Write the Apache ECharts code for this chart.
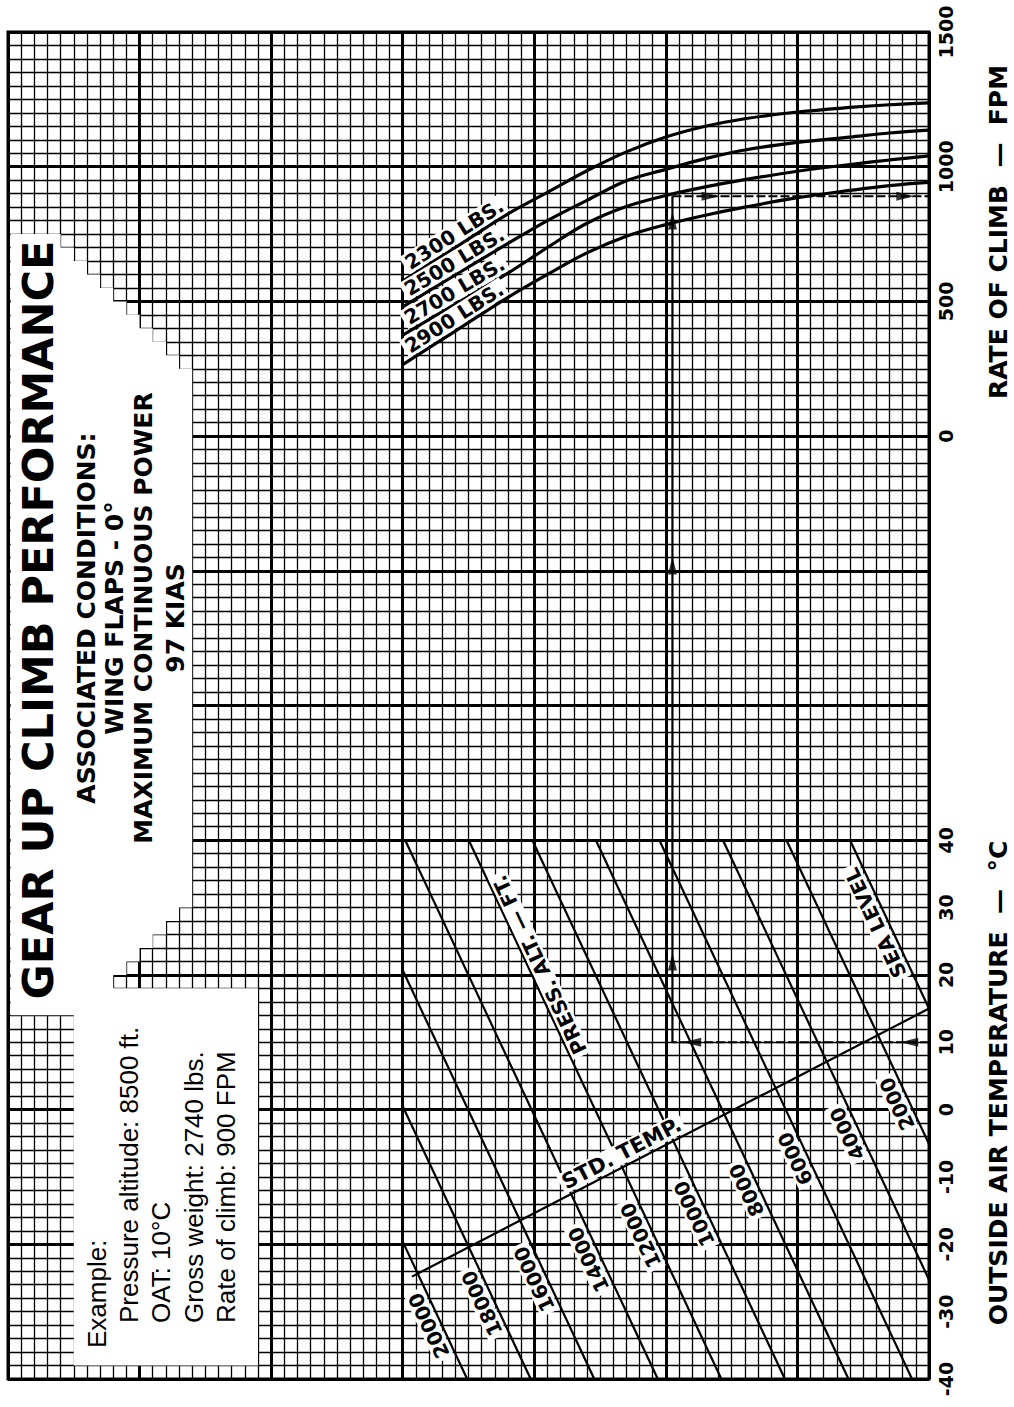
<!DOCTYPE html>
<html>
<head>
<meta charset="utf-8">
<script src="https://cdn.jsdelivr.net/npm/echarts@6.0.0/dist/echarts.min.js"></script>
<style>
html,body{margin:0;padding:0;background:#ffffff;}
#chart{width:1014px;height:1407px;}
</style>
</head>
<body>
<div id="chart"></div>
<script>
// ================= DATA =================
// Scales
const tempTickLabels = [-40, -30, -20, -10, 0, 10, 20, 30, 40];      // OAT, deg C
const rocTickLabels = [0, 500, 1000, 1500];                          // rate of climb, FPM

// Pressure altitude lines (OAT panel): end points [reference grid value, OAT degC]
const altitudeNames = ['SEA LEVEL', '2000', '4000', '6000', '8000', '10000',
                       '12000', '14000', '16000', '18000', '20000'];
const altSeaLevel = [[0, 15], [6.0, 40]];
const alt2000  = [[0, -5.1], [10.83, 40]];
const alt4000  = [[0, -25.25], [15.66, 40]];
const alt6000  = [[1.29, -40], [20.49, 40]];
const alt8000  = [[6.12, -40], [25.32, 40]];
const alt10000 = [[10.95, -40], [30.15, 40]];
const alt12000 = [[15.78, -40], [34.98, 40]];
const alt14000 = [[20.61, -40], [39.81, 40]];
const alt16000 = [[25.44, -40], [40, 20.7]];
const alt18000 = [[30.27, -40], [40, 0.5]];
const alt20000 = [[35.1, -40], [40, -19.6]];
const stdTempLine = [[0, 15], [39.3, -24.8]];

// Weight curves (rate of climb panel): reference grid value -> rate of climb FPM
const weightNames = ['2300 LBS.', '2500 LBS.', '2700 LBS.', '2900 LBS.'];
const curveRef = [40, 36, 32, 29, 26, 23, 20, 17, 14, 10, 6, 3, 0];
const roc2300 = [575, 700, 825, 905, 985, 1055, 1110, 1150, 1178, 1203, 1220, 1230, 1237];
const roc2500 = [480, 598, 715, 800, 875, 948, 990, 1030, 1062, 1090, 1110, 1125, 1136];
const roc2700 = [375, 490, 605, 700, 790, 852, 893, 925, 952, 983, 1008, 1025, 1040];
const roc2900 = [265, 390, 515, 600, 680, 742, 785, 820, 850, 885, 912, 930, 942];

// Worked example
const exampleOAT = 10;        // degC
const exampleRef = 19.5;      // reference value at 8500 ft / 10 degC
const exampleROC = 890;       // FPM

// Texts
const titleText = 'GEAR UP CLIMB PERFORMANCE';
const conditionLines = ['ASSOCIATED CONDITIONS:', 'WING FLAPS - 0°', 'MAXIMUM CONTINUOUS POWER', '97 KIAS'];
const exampleLines = ['Example:', 'Pressure altitude: 8500 ft.', 'OAT: 10°C', 'Gross weight: 2740 lbs.', 'Rate of climb: 900 FPM'];

// ================= LAYOUT =================
const FB = '"DejaVu Sans", "Liberation Sans", sans-serif';
const FR = '"Liberation Sans", Arial, sans-serif';

// temperature value -> position on the rate-of-climb axis (same grid, 2 degC per square, 50 FPM per square)
function tempOnRocAxis(t) { return -3500 + 50 * (t + 40) / 2; }

function refOnLine(pts, t) {
  const a = pts[0], b = pts[1];
  const f = (t - a[1]) / (b[1] - a[1]);
  return a[0] + f * (b[0] - a[0]);
}
function curveAt(vals, r) {
  for (let i = 0; i < curveRef.length - 1; i++) {
    const r0 = curveRef[i], r1 = curveRef[i + 1];
    if (r <= r0 && r >= r1) return vals[i] + (r - r0) / (r1 - r0) * (vals[i + 1] - vals[i]);
  }
  return vals[vals.length - 1];
}

// white mask of the title / example area, in grid squares [ref, square]
function buildMask() {
  const pts = [[69.8, 85]];
  for (let k = 0; k < 10; k++) { pts.push([66 - k, 85 - k]); pts.push([66 - k, 84 - k]); }
  pts.push([56, 75]);
  pts.push([56, 36]);
  for (let k = 0; k < 7; k++) { pts.push([56 + k, 35 - k]); pts.push([57 + k, 35 - k]); }
  pts.push([63, 29]);
  pts.push([51, 29]);
  pts.push([51, 1]);
  pts.push([65, 1]);
  pts.push([65, 27]);
  pts.push([69.8, 27]);
  return pts;
}

const altitudeLines = [altSeaLevel, alt2000, alt4000, alt6000, alt8000, alt10000,
                       alt12000, alt14000, alt16000, alt18000, alt20000];
const altLabelAt = [28.5, 1.6, -2.8, -6.5, -11.2, -14.7, -17.9, -21.5, -24.4, -28, -31.3];
const weightCurves = [roc2300, roc2500, roc2700, roc2900];

const chart = echarts.init(document.getElementById('chart'), null, { renderer: 'svg' });

function labelSeries(yAxisIndex, items) {
  return {
    type: 'custom', xAxisIndex: 0, yAxisIndex: yAxisIndex, z: 6, silent: true, clip: false,
    data: items.map((it, i) => [it.anchor[0], it.anchor[1], i]),
    renderItem: function (params, api) {
      const it = items[params.dataIndex];
      const p = api.coord(it.anchor), q1 = api.coord(it.from), q2 = api.coord(it.to);
      const th = Math.atan2(-(q2[1] - q1[1]), q2[0] - q1[0]);
      const nx = -Math.sin(th), ny = -Math.cos(th);
      return {
        type: 'text', x: p[0] + nx * it.offset, y: p[1] + ny * it.offset, rotation: th,
        style: { text: it.text, font: it.font, fill: '#000', align: 'center', verticalAlign: 'middle',
                 backgroundColor: '#fff', padding: [0, 3] }
      };
    }
  };
}

const altLabelItems = altitudeNames.map((name, i) => {
  const pts = altitudeLines[i];
  const t = altLabelAt[i];
  return { text: name, anchor: [refOnLine(pts, t), t], from: pts[0], to: pts[1],
           offset: 12, font: 'bold 20px ' + FB };
});
altLabelItems.push({ text: 'PRESS. ALT. \u2014 FT.', anchor: [29.6, 21.5], from: alt10000[0], to: alt10000[1],
                     offset: 0, font: 'bold 20px ' + FB });
altLabelItems.push({ text: 'STD. TEMP.', anchor: [refOnLine(stdTempLine, -8.2), -8.2],
                     from: stdTempLine[1], to: stdTempLine[0], offset: 13, font: 'bold 21px ' + FB });

const weightLabelItems = weightNames.map((name, i) => {
  const v = weightCurves[i];
  return { text: name, anchor: [35.6, curveAt(v, 35.6)], from: [40, v[0]], to: [32, curveAt(v, 32)],
           offset: 12, font: 'bold 20px ' + FB };
});

const series = [];
// mask
series.push({
  type: 'custom', xAxisIndex: 0, yAxisIndex: 2, z: 1, silent: true, clip: false,
  data: [[0, 0]],
  renderItem: function (params, api) {
    return { type: 'polygon', shape: { points: buildMask().map(p => api.coord(p)) },
             style: { fill: '#ffffff', stroke: null } };
  }
});
// altitude lines
altitudeLines.forEach((pts, i) => series.push({
  type: 'line', name: altitudeNames[i], xAxisIndex: 0, yAxisIndex: 0, data: pts,
  symbol: 'none', silent: true, z: 3, lineStyle: { color: '#000', width: 2.2 }
}));
series.push({ type: 'line', name: 'STD. TEMP.', xAxisIndex: 0, yAxisIndex: 0, data: stdTempLine,
  symbol: 'none', silent: true, z: 3, lineStyle: { color: '#000', width: 2.2 } });
// weight curves
weightCurves.forEach((v, i) => series.push({
  type: 'line', name: weightNames[i], xAxisIndex: 0, yAxisIndex: 1,
  data: curveRef.map((r, j) => [r, v[j]]), smooth: 0.35,
  symbol: 'none', silent: true, z: 3, lineStyle: { color: '#000', width: 3.2 }
}));
// example path
series.push({ type: 'line', name: 'example-oat', xAxisIndex: 0, yAxisIndex: 0,
  data: [[0, exampleOAT], [exampleRef, exampleOAT]], symbol: 'none', silent: true, z: 4,
  lineStyle: { color: '#000', width: 2, type: [9, 3] } });
series.push({ type: 'line', name: 'example-up', xAxisIndex: 0, yAxisIndex: 1,
  data: [[exampleRef, tempOnRocAxis(exampleOAT)], [exampleRef, exampleROC]],
  symbol: 'none', silent: true, z: 4, lineStyle: { color: '#000', width: 2.2 } });
series.push({ type: 'line', name: 'example-roc', xAxisIndex: 0, yAxisIndex: 1,
  data: [[exampleRef, exampleROC], [0, exampleROC]],
  symbol: 'none', silent: true, z: 4, lineStyle: { color: '#000', width: 2, type: [9, 3] } });
// arrow heads
const arrowPath = 'path://M0,0 L5,16 L-5,16 Z';
series.push({ type: 'scatter', xAxisIndex: 0, yAxisIndex: 0, silent: true, z: 5,
  symbol: arrowPath, symbolSize: [9, 18], symbolRotate: 90, itemStyle: { color: '#000' },
  data: [[1.5, exampleOAT], [18, exampleOAT]] });
series.push({ type: 'scatter', xAxisIndex: 0, yAxisIndex: 1, silent: true, z: 5,
  symbol: arrowPath, symbolSize: [9, 18], symbolRotate: 0, itemStyle: { color: '#000' },
  data: [[exampleRef, tempOnRocAxis(22)], [exampleRef, -480], [exampleRef, 800]] });
series.push({ type: 'scatter', xAxisIndex: 0, yAxisIndex: 1, silent: true, z: 5,
  symbol: arrowPath, symbolSize: [9, 18], symbolRotate: -90, itemStyle: { color: '#000' },
  data: [[16.6, exampleROC], [1.8, exampleROC]] });
// labels
series.push(labelSeries(0, altLabelItems));
series.push(labelSeries(1, weightLabelItems));

const minorSplit = { show: true, lineStyle: { color: '#000', width: 1.3 } };
const heavySplit = { show: true, lineStyle: { color: '#000', width: 3 } };
const tickFont = { color: '#000', fontFamily: FB, fontWeight: 'bold', fontSize: 19 };

function txt(x, y, text, font, align) {
  return { type: 'text', x: x, y: y, rotation: Math.PI / 2, z: 20, silent: true,
           style: { text: text, font: font, fill: '#000', align: align || 'center', verticalAlign: 'middle' } };
}

const graphics = [
  txt(38, 620, titleText, 'bold 43px ' + FB),
  txt(86, 618, conditionLines[0], 'bold 25px ' + FB),
  txt(114, 618, conditionLines[1], 'bold 25px ' + FB),
  txt(143, 618, conditionLines[2], 'bold 25px ' + FB),
  txt(175, 618, conditionLines[3], 'bold 25px ' + FB),
  txt(97, 1348, exampleLines[0], '26px ' + FR, 'left'),
  txt(129, 1323, exampleLines[1], '26px ' + FR, 'left'),
  txt(161, 1323, exampleLines[2], '26px ' + FR, 'left'),
  txt(194, 1323, exampleLines[3], '26px ' + FR, 'left'),
  txt(226, 1323, exampleLines[4], '26px ' + FR, 'left'),
  txt(998, 232, 'RATE OF CLIMB  \u2014  FPM', 'bold 25px ' + FB),
  txt(998, 1083, 'OUTSIDE AIR TEMPERATURE  \u2014  \u00B0C', 'bold 25px ' + FB)
];

const option = {
  animation: false,
  backgroundColor: '#ffffff',
  grid: { left: 8, top: 32, width: 921, height: 1347, show: true, borderColor: '#000', borderWidth: 3,
          backgroundColor: 'transparent', containLabel: false, outerBoundsMode: 'none' },
  xAxis: [
    { type: 'value', min: 0, max: 70, interval: 1, inverse: true, position: 'bottom',
      axisLine: { show: false }, axisTick: { show: false }, axisLabel: { show: false }, splitLine: minorSplit },
    { type: 'value', min: 0, max: 70, interval: 10, inverse: true, position: 'bottom',
      axisLine: { show: false }, axisTick: { show: false }, axisLabel: { show: false }, splitLine: heavySplit }
  ],
  yAxis: [
    { type: 'value', min: -40, max: 160, interval: 2, position: 'right', offset: 0,
      axisLine: { show: false }, axisTick: { show: false }, splitLine: minorSplit,
      axisLabel: Object.assign({ show: true, rotate: 90, margin: 7,
        formatter: v => (tempTickLabels.indexOf(v) >= 0 ? String(v) : '') }, tickFont) },
    { type: 'value', min: -3500, max: 1500, interval: 500, position: 'right', offset: 0,
      axisLine: { show: false }, axisTick: { show: false }, splitLine: heavySplit,
      axisLabel: Object.assign({ show: true, rotate: 90, margin: 7,
        formatter: v => (rocTickLabels.indexOf(v) >= 0 ? String(v) : '') }, tickFont) },
    { type: 'value', min: 0, max: 100, show: false, splitLine: { show: false } }
  ],
  graphic: graphics,
  series: series
};
chart.setOption(option);
</script>
</body>
</html>
